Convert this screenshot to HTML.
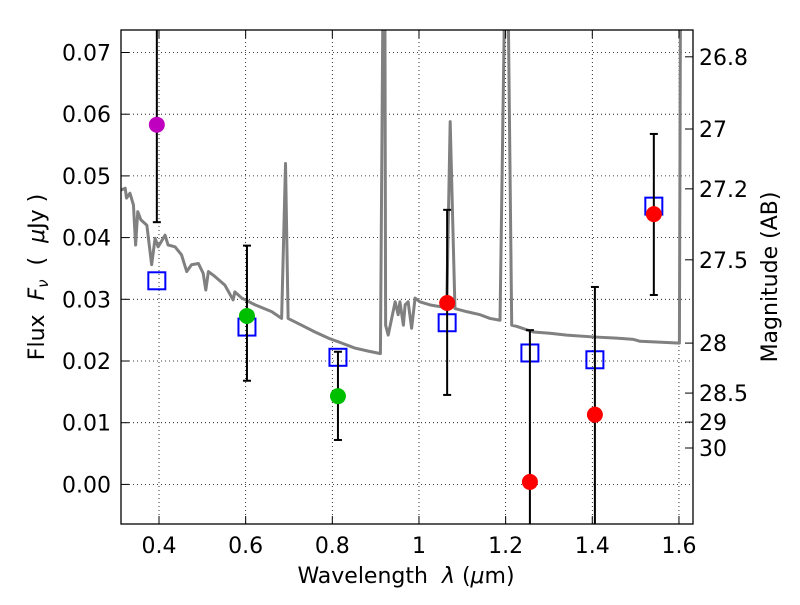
<!DOCTYPE html>
<html><head><meta charset="utf-8"><style>
body{margin:0;background:#fff}
svg text{font-family:"DejaVu Sans","Liberation Sans",sans-serif;fill:#000}
</style></head><body>
<svg id="chart" width="800" height="600" viewBox="0 0 800 600" xmlns="http://www.w3.org/2000/svg">
<defs><clipPath id="clip"><rect x="121" y="30" width="572" height="494"/></clipPath></defs>
<rect x="0" y="0" width="800" height="600" fill="#fff"/>
<g id="grid"></g>
<g id="plot" clip-path="url(#clip)"></g>
<rect x="121" y="30" width="572" height="494" fill="none" stroke="#000" stroke-width="1.3"/>
<g id="axes"></g>
<text x="0" y="0" font-size="22" text-anchor="middle" xml:space="preserve" transform="translate(44,277) rotate(-90)">Flux  <tspan font-style="italic">F</tspan><tspan font-size="15" dy="4" font-style="italic">ν</tspan><tspan dy="-4">  (  </tspan><tspan font-style="italic">μ</tspan>Jy )</text>
<text x="406" y="583" font-size="22" text-anchor="middle" xml:space="preserve">Wavelength  <tspan font-style="italic">λ</tspan> (<tspan font-style="italic">μ</tspan>m)</text>
<text x="0" y="0" font-size="22" text-anchor="middle" transform="translate(777,277) rotate(-90)">Magnitude (AB)</text>
</svg>
<script>
const xTicks=[0.4,0.6,0.8,1.0,1.2,1.4,1.6];
const xTickLabels=["0.4","0.6","0.8","1","1.2","1.4","1.6"];
const yTicks=[0,0.01,0.02,0.03,0.04,0.05,0.06,0.07];
const yTickLabels=["0.00","0.01","0.02","0.03","0.04","0.05","0.06","0.07"];
const magTickFlux=[0.0693,0.0576,0.0479,0.0364,0.0229,0.0148,0.0101,0.0059];
const magTickLabels=["26.8","27","27.2","27.5","28","28.5","29","30"];
const sedLambda=[0.312,0.322,0.325,0.333,0.341,0.346,0.351,0.358,0.372,0.383,0.391,0.398,0.414,0.421,0.437,0.452,0.464,0.475,0.491,0.502,0.508,0.514,0.529,0.552,0.571,0.575,0.591,0.622,0.660,0.683,0.692,0.698,0.729,0.760,0.791,0.822,0.852,0.883,0.911,0.918,0.921,0.923,0.929,0.937,0.945,0.952,0.956,0.964,0.968,0.975,0.983,0.991,1.002,1.025,1.049,1.064,1.072,1.083,1.110,1.141,1.164,1.187,1.200,1.204,1.214,1.226,1.264,1.302,1.341,1.402,1.456,1.495,1.510,1.572,1.601,1.604];
const sedFlux=[0.0477,0.0480,0.0464,0.0472,0.0453,0.0388,0.0442,0.0429,0.0420,0.0356,0.0399,0.0385,0.0404,0.0388,0.0385,0.0372,0.0345,0.0356,0.0358,0.0342,0.0315,0.0345,0.0337,0.0323,0.0299,0.0312,0.0302,0.0291,0.0280,0.0269,0.0520,0.0269,0.0258,0.0247,0.0237,0.0229,0.0221,0.0216,0.0212,0.09,0.09,0.0258,0.0242,0.0269,0.0296,0.0275,0.0296,0.0258,0.0291,0.0296,0.0253,0.0302,0.0296,0.0291,0.0288,0.0288,0.0588,0.0285,0.0280,0.0275,0.0269,0.0266,0.09,0.09,0.0258,0.0256,0.0247,0.0245,0.0242,0.0239,0.0237,0.0235,0.0232,0.0230,0.0229,0.09];
const sqLambda=[0.395,0.603,0.813,1.065,1.256,1.406,1.542];
const sqFlux=[0.0330,0.0255,0.0206,0.0262,0.0213,0.0202,0.0451];
const ptLambda=[0.395,0.603,0.813,1.065,1.256,1.406,1.542];
const ptFlux=[0.0583,0.0273,0.0143,0.0294,0.0004,0.0113,0.0438];
const ptColor=["#bf00bf","#00bf00","#00bf00","#ff0000","#ff0000","#ff0000","#ff0000"];
const errLow=[0.0425,0.0168,0.0072,0.0145,-0.02,-0.02,0.0307];
const errHigh=[0.10,0.0387,0.0215,0.0445,0.0250,0.0320,0.0568];

const NS="http://www.w3.org/2000/svg";
const X=v=>159+(v-0.4)*433.3;
const Y=v=>484.4-v*6170;
function mk(tag,attrs,parent){const e=document.createElementNS(NS,tag);for(const k in attrs)e.setAttribute(k,attrs[k]);parent.appendChild(e);return e;}
const grid=document.getElementById('grid'),plot=document.getElementById('plot'),axes=document.getElementById('axes');

xTicks.forEach((t,i)=>{
  const g=mk('line',{x1:X(t),x2:X(t),y1:30,y2:524,stroke:'#000','stroke-width':0.8,'stroke-dasharray':'1,3'},grid);
  
  
  const a=mk('line',{x1:X(t),x2:X(t),y1:524,y2:516,stroke:'#000','stroke-width':1},axes);
  
  
  const b=mk('line',{x1:X(t),x2:X(t),y1:30,y2:38,stroke:'#000','stroke-width':1},axes);
  
  
  const tx=mk('text',{x:X(t),y:553,'font-size':22,'text-anchor':'middle'},axes);
  tx.textContent=xTickLabels[i];
  
  
});
yTicks.forEach((t,i)=>{
  const g=mk('line',{x1:121,x2:693,y1:Y(t),y2:Y(t),stroke:'#000','stroke-width':0.8,'stroke-dasharray':'1,3'},grid);
  
  
  const a=mk('line',{x1:121,x2:129,y1:Y(t),y2:Y(t),stroke:'#000','stroke-width':1},axes);
  
  
  const tx=mk('text',{x:111,y:Y(t)+8,'font-size':22,'text-anchor':'end'},axes);
  tx.textContent=yTickLabels[i];
  
  
});
magTickFlux.forEach((f,i)=>{
  const a=mk('line',{x1:685,x2:693,y1:Y(f),y2:Y(f),stroke:'#000','stroke-width':1},axes);
  
  
  const tx=mk('text',{x:699,y:Y(f)+8,'font-size':22,'text-anchor':'start'},axes);
  tx.textContent=magTickLabels[i];
  
  
});
const sed=mk('polyline',{points:sedLambda.map((l,i)=>X(l)+','+Y(sedFlux[i])).join(' '),fill:'none',stroke:'#808080','stroke-width':3,'stroke-linejoin':'round'},plot);


sqLambda.forEach((l,i)=>{
  const s=mk('rect',{x:X(l)-8.5,y:Y(sqFlux[i])-8.5,width:17,height:17,fill:'none',stroke:'#0000ff','stroke-width':2},plot);
  
  
});
ptLambda.forEach((l,i)=>{
  const e=mk('line',{x1:X(l),x2:X(l),y1:Y(errLow[i]),y2:Y(errHigh[i]),stroke:'#000','stroke-width':2},plot);
  
  
  [errLow[i],errHigh[i]].forEach(v=>{
    const c=mk('line',{x1:X(l)-4,x2:X(l)+4,y1:Y(v),y2:Y(v),stroke:'#000','stroke-width':2},plot);
    
    
  });
});
ptLambda.forEach((l,i)=>{
  const c=mk('circle',{cx:X(l),cy:Y(ptFlux[i]),r:8,fill:ptColor[i]},plot);
  
  
});
</script>
</body></html>
